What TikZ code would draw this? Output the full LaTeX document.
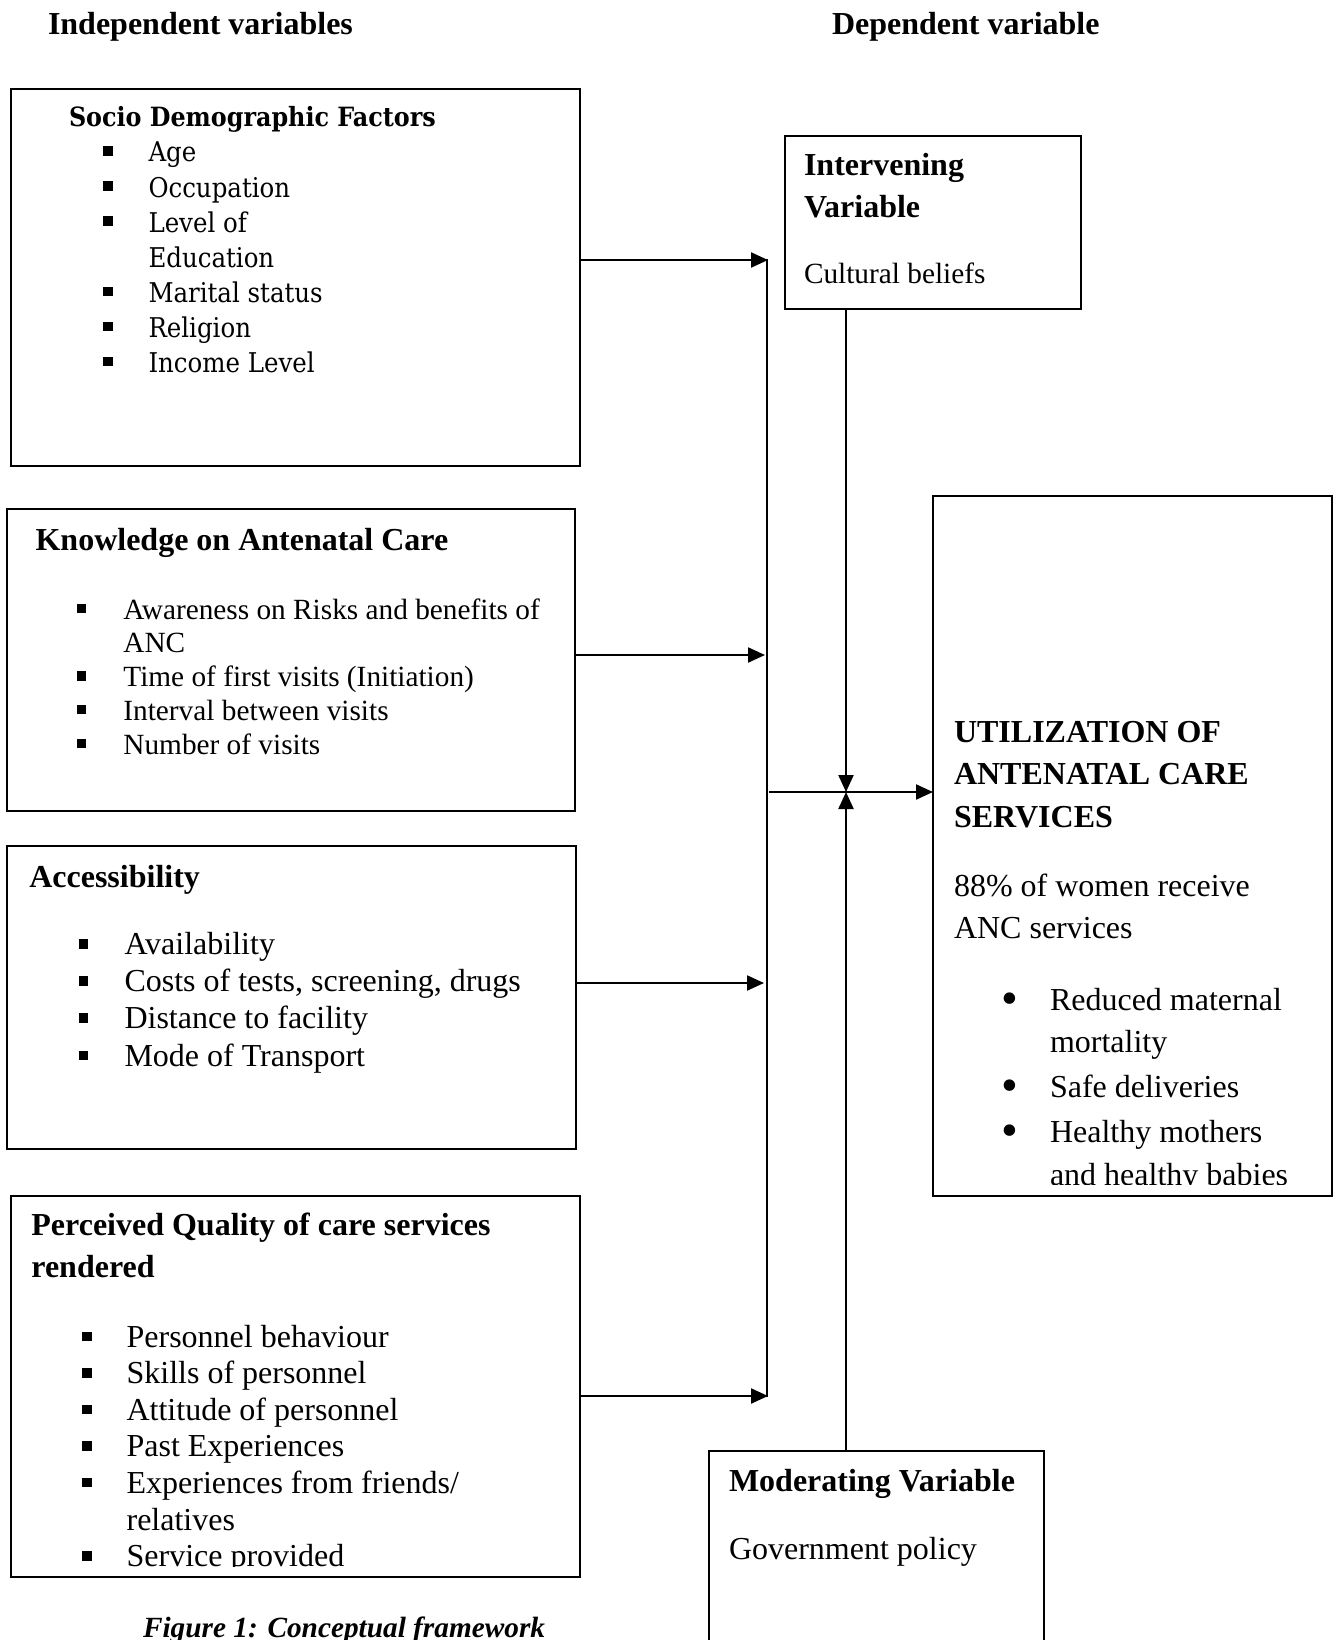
\documentclass[tikz,border=0pt]{standalone}
\usepackage{fontspec}
\setmainfont{Liberation Serif}
\newfontfamily\cambfont{DejaVu Serif Condensed}
\usetikzlibrary{arrows.meta}
\newcommand\sqb{\rule[6pt]{9.5pt}{9.5pt}}
\newcommand\rdb{\raisebox{-4.5pt}{\fontsize{48}{48}\selectfont\textbullet}}
\begin{document}
\begin{tikzpicture}[x=1pt,y=-1pt,
 box/.style={draw, line width=2pt, inner sep=0pt, outer sep=0pt, rectangle},
 txt/.style={anchor=base west, inner sep=0pt, outer sep=0pt},
 hd/.style={txt, font=\fontsize{32}{38}\selectfont\bfseries},
 bl/.style={txt, font=\fontsize{32}{38}\selectfont},
 bs/.style={txt, font=\fontsize{29.3}{34}\selectfont},
 cb/.style={txt, font=\fontsize{27.2}{32}\selectfont\cambfont},
 cbh/.style={txt, font=\fontsize{26.5}{32}\selectfont\cambfont\bfseries},
 figcap/.style={txt, font=\fontsize{29.3}{34}\selectfont\bfseries\itshape},
 conn/.style={line width=2.2pt},
 arr/.style={line width=2.2pt, -{Triangle[length=17pt,width=15pt]}},
]
\clip (0,0) rectangle (1341,1640);
\fill[white] (0,0) rectangle (1341,1640);

% headers
\node[hd] (hIndep) at (48,35) {Independent variables};
\node[hd] (hDep) at (832,35) {Dependent variable};

% boxes
\node[box, minimum width=569pt, minimum height=376.5pt] (socio) at (295,277.25) {};
\node[box, minimum width=567.7pt, minimum height=302pt] (know) at (291.15,660) {};
\node[box, minimum width=568.7pt, minimum height=302.5pt] (access) at (291.65,997.25) {};
\node[box, minimum width=569pt, minimum height=381.4pt] (perc) at (295,1386.3) {};
\node[box, minimum width=296pt, minimum height=172.6pt] (interv) at (932.5,222.3) {};
\node[box, minimum width=398.6pt, minimum height=700pt] (util) at (1132.3,846) {};
\node[box, minimum width=335pt, minimum height=249pt] (moder) at (876.5,1575.5) {};

% socio demographic
\node[cbh] (sT) at (69,127) {Socio Demographic Factors};
\node[txt] (sb1) at (103.3,162) {\sqb};
\node[cb] (s1) at (148.5,162) {Age};
\node[txt] (sb2) at (103.3,197) {\sqb};
\node[cb] (s2) at (148.5,197) {Occupation};
\node[txt] (sb3) at (103.3,232) {\sqb};
\node[cb] (s3) at (148.5,232) {Level of};
\node[cb] (s4) at (148.5,267) {Education};
\node[txt] (sb5) at (103.3,302) {\sqb};
\node[cb] (s5) at (148.5,302) {Marital status};
\node[txt] (sb6) at (103.3,337) {\sqb};
\node[cb] (s6) at (148.5,337) {Religion};
\node[txt] (sb7) at (103.3,372) {\sqb};
\node[cb] (s7) at (148.5,372) {Income Level};

% knowledge
\node[hd] (kT) at (35.6,550) {Knowledge on Antenatal Care};
\node[txt] (kb1) at (76.85,619) {\sqb};
\node[bs] (k1) at (123.4,619) {Awareness on Risks and benefits of};
\node[bs] (k2) at (123.4,652.75) {ANC};
\node[txt] (kb3) at (76.85,686.5) {\sqb};
\node[bs] (k3) at (123.4,686.5) {Time of first visits (Initiation)};
\node[txt] (kb4) at (76.85,720.25) {\sqb};
\node[bs] (k4) at (123.4,720.25) {Interval between visits};
\node[txt] (kb5) at (76.85,754) {\sqb};
\node[bs] (k5) at (123.4,754) {Number of visits};

% accessibility
\node[hd] (aT) at (29.3,887) {Accessibility};
\node[txt] (ab1) at (78.95,954.5) {\sqb};
\node[bl] (a1) at (124.5,954.5) {Availability};
\node[txt] (ab2) at (78.95,991.7) {\sqb};
\node[bl] (a2) at (124.5,991.7) {Costs of tests, screening, drugs};
\node[txt] (ab3) at (78.95,1028.9) {\sqb};
\node[bl] (a3) at (124.5,1028.9) {Distance to facility};
\node[txt] (ab4) at (78.95,1066.1) {\sqb};
\node[bl] (a4) at (124.5,1066.1) {Mode of Transport};

% perceived quality
\node[hd] (pT1) at (31.4,1235) {Perceived Quality of care services};
\node[hd] (pT2) at (31.4,1277) {rendered};
\begin{scope}
\clip (10,1190) rectangle (580,1566);
\node[txt] (pb1) at (82,1347) {\sqb};
\node[bl] (p1) at (126.6,1347) {Personnel behaviour};
\node[txt] (pb2) at (82,1383.6) {\sqb};
\node[bl] (p2) at (126.6,1383.6) {Skills of personnel};
\node[txt] (pb3) at (82,1420.2) {\sqb};
\node[bl] (p3) at (126.6,1420.2) {Attitude of personnel};
\node[txt] (pb4) at (82,1456.8) {\sqb};
\node[bl] (p4) at (126.6,1456.8) {Past Experiences};
\node[txt] (pb5) at (82,1493.4) {\sqb};
\node[bl] (p5) at (126.6,1493.4) {Experiences from friends/};
\node[bl] (p6) at (126.6,1530) {relatives};
\node[txt] (pb7) at (82,1566.6) {\sqb};
\node[bl] (p7) at (126.6,1566.6) {Service provided};
\end{scope}

% intervening
\node[hd] (iT1) at (804,176) {Intervening};
\node[hd] (iT2) at (804,218) {Variable};
\node[bs] (i1) at (804,283) {Cultural beliefs};

% utilization
\node[hd] (uT1) at (954,742.5) {UTILIZATION OF};
\node[hd] (uT2) at (954,784.5) {ANTENATAL CARE};
\node[hd] (uT3) at (954,827.5) {SERVICES};
\node[bl] (u1) at (954,896) {88\% of women receive};
\node[bl] (u2) at (954,938) {ANC services};
\begin{scope}
\clip (933,496) rectangle (1332,1184);
\node[bl] (ub1) at (1001,1010) {\rdb};
\node[bl] (u3) at (1050,1010) {Reduced maternal};
\node[bl] (u4) at (1050,1052) {mortality};
\node[bl] (ub2) at (1001,1097) {\rdb};
\node[bl] (u5) at (1050,1097) {Safe deliveries};
\node[bl] (ub3) at (1001,1142) {\rdb};
\node[bl] (u6) at (1050,1142) {Healthy mothers};
\node[bl] (u7) at (1050,1185) {and healthy babies};
\end{scope}

% moderating
\node[hd] (mT) at (729,1491) {Moderating Variable};
\node[bl] (m1) at (729,1559) {Government policy};

% caption
\node[figcap] (fig) at (143,1637) {Figure 1: Conceptual framework};

% connectors
\coordinate (t1) at (768,260);
\coordinate (t2) at (765,655);
\coordinate (t3) at (764,983);
\coordinate (t4) at (768,1396);
\coordinate (vtop) at (767,259);
\coordinate (vbot) at (767,1397);
\coordinate (h0) at (769,792);
\coordinate (jn) at (846,792);

\draw[arr] (socio.east |- t1) -- (t1);
\draw[arr] (know.east |- t2) -- (t2);
\draw[arr] (access.east |- t3) -- (t3);
\draw[arr] (perc.east |- t4) -- (t4);
\draw[conn] (vtop) -- (vbot);
\draw[arr] (h0) -- (util.west |- h0);
\draw[arr] (interv.south -| jn) -- (jn);
\draw[arr] (moder.north -| jn) -- (jn);
\end{tikzpicture}
\end{document}
